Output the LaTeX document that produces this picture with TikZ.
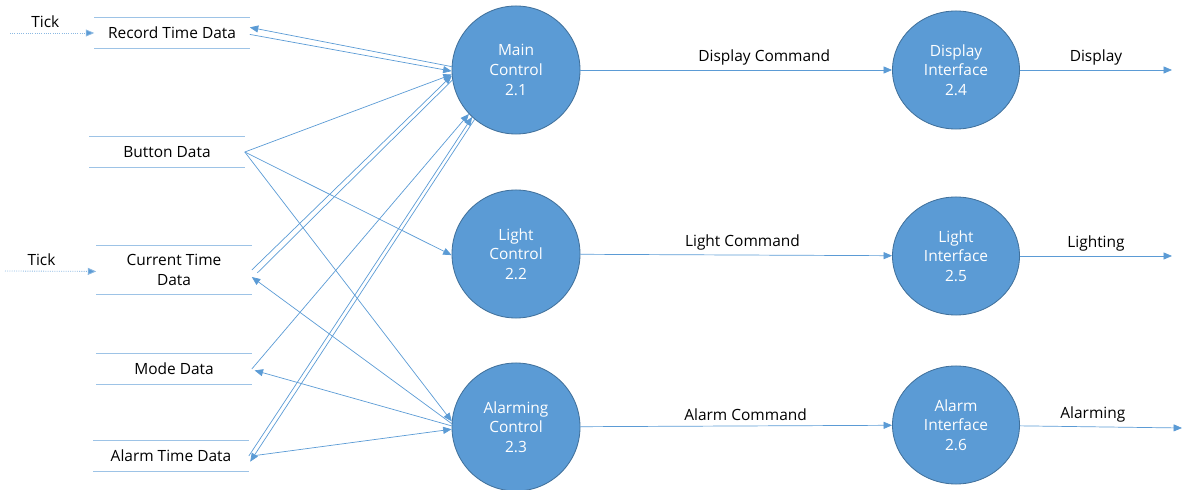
\documentclass[tikz,border=0pt]{standalone}
\usepackage{fontspec}
\setmainfont{Open Sans}
\usetikzlibrary{arrows.meta,shapes.geometric}
\definecolor{procblue}{HTML}{5B9BD5}
\definecolor{rimblue}{HTML}{41719C}
\definecolor{lineblue}{HTML}{5B9BD5}
\definecolor{tickblue}{HTML}{9DC3E6}

\begin{document}
\begin{tikzpicture}[x=0.025cm, y=-0.025cm,
        font=\fontsize{11}{14}\selectfont,
        proc/.style={ellipse, fill=procblue, draw=rimblue, line width=0.6pt,
            text=white, align=center, inner sep=0pt,
            minimum width=3.2cm, minimum height=3.2cm},
        iface/.style={proc, minimum width=3.175cm, minimum height=2.95cm},
        store/.style={align=center, inner sep=0pt,
            minimum width=3.875cm, minimum height=0.775cm},
        flow/.style={draw=lineblue, line width=0.5pt,
            -{Triangle[length=6pt,width=5pt]}},
        tickflow/.style={draw=lineblue!70, line width=0.6pt, densely dotted,
            -{Triangle[length=6pt,width=5pt,fill=lineblue]}}]
    \useasboundingbox (0,0) rectangle (1184,490);

    % data stores
    \node [store] (rec)  at (172,33)  {Record Time Data};
    \node [store] (btn)  at (167,152) {Button Data};
    \node [store, minimum height=1.225cm] (cur) at (174,270) {Current Time\\Data};
    \node [store] (mode) at (174,369) {Mode Data};
    \node [store] (alm)  at (171,456) {Alarm Time Data};
    \foreach \s in {rec,btn,cur,mode,alm}
        \draw [tickblue, line width=0.7pt] (\s.north west) -- (\s.north east)
            (\s.south west) -- (\s.south east);

    % processes
    \node [proc] (main)   at (516,70)  {Main\\Control\\2.1};
    \node [proc] (light)  at (516,254) {Light\\Control\\2.2};
    \node [proc] (alarmc) at (516,427) {Alarming\\Control\\2.3};
    \node [iface] (disp)   at (956,70)  {Display\\Interface\\2.4};
    \node [iface] (lighti) at (956,256) {Light\\Interface\\2.5};
    \node [iface] (alarmi) at (956,425) {Alarm\\Interface\\2.6};

    % ticks
    \coordinate (tick1) at (10,33);
    \coordinate (tick2) at (5,271);
    \draw [tickflow] (tick1) -- node [above, pos=0.42] {Tick} (rec.west);
    \draw [tickflow] (tick2) -- node [above, pos=0.4] {Tick} ([yshift=-1pt]cur.west);

    % stores <-> controls
    \draw [flow] (main.177) -- ([yshift=4pt]rec.east);
    \draw [flow] ([yshift=-1pt]rec.east) -- (main.181);
    \draw [flow] (btn.east) -- (main.184);
    \draw [flow] (btn.east) -- (light.181);
    \draw [flow] (btn.east) -- (alarmc.175);
    \draw [flow] (cur.east) -- (main.185);
    \draw [draw=lineblue, line width=0.5pt] ([xshift=4pt,yshift=-2pt]cur.east) -- (main.189);
    \draw [flow] (alarmc.177) -- ([yshift=-5pt]cur.east);
    \draw [flow] (mode.east) -- (main.223);
    \draw [flow] (alarmc.179) -- ([xshift=2pt,yshift=-1pt]mode.east);
    \draw [flow] (alm.east) -- (main.227);
    \draw [flow] (main.230) -- ([xshift=1pt,yshift=-4pt]alm.east);
    \draw [flow] ([xshift=2pt]alm.east) -- (alarmc.182);

    % controls -> interfaces -> outside
    \coordinate (dispend)  at (1172,70);
    \coordinate (lightend) at (1172,256);
    \coordinate (alarmend) at (1182,428);
    \draw [flow] (main) -- node [above, pos=0.59] {Display Command} (disp);
    \draw [flow] (light) -- node [above, pos=0.52] {Light Command} (lighti);
    \draw [flow] (alarmc) -- node [above, pos=0.53] {Alarm Command} (alarmi);
    \draw [flow] (disp) -- node [above] {Display} (dispend);
    \draw [flow] (lighti) -- node [above] {Lighting} (lightend);
    \draw [flow] (alarmi) -- node [above, pos=0.45] {Alarming} (alarmend);
\end{tikzpicture}
\end{document}
